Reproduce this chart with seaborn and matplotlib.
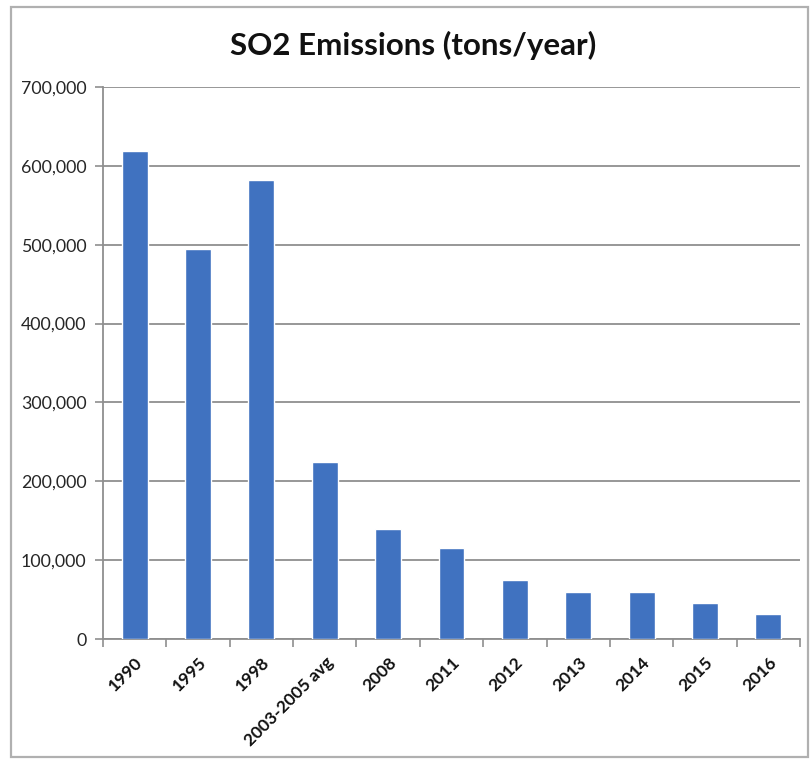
import matplotlib
matplotlib.use("Agg")
import matplotlib.pyplot as plt
from matplotlib.ticker import FuncFormatter, MultipleLocator, FixedLocator
from matplotlib.patches import Rectangle
import seaborn as sns

# Annual SO2 emissions by reporting period
categories = ["1990", "1995", "1998", "2003-2005 avg", "2008", "2011",
              "2012", "2013", "2014", "2015", "2016"]
emissions = [619000, 494000, 582000, 224000, 139000, 115000,
             75000, 60000, 59000, 46000, 32000]

sns.set_theme(style="white")
plt.rcParams["font.family"] = ["Lato", "DejaVu Sans"]

W, H = 811, 759
fig = plt.figure(figsize=(W / 100, H / 100), dpi=100)
fig.patch.set_facecolor("white")

# outer chart frame
fig.patches.append(Rectangle((11 / W, 1 - 757 / H), (808 - 11) / W, (757 - 7) / H,
                             transform=fig.transFigure, fill=False,
                             edgecolor="#b0b0b0", linewidth=1.6))

ax = fig.add_axes([103 / W, 1 - 639 / H, (800 - 103) / W, (639 - 87) / H])

sns.barplot(x=categories, y=emissions, color="#4072c0", width=0.41,
            saturation=1, ax=ax, zorder=3)

ax.set_xlim(-0.5, len(categories) - 0.5)
ax.set_ylim(0, 700000)
ax.yaxis.set_major_locator(MultipleLocator(100000))
ax.yaxis.set_major_formatter(FuncFormatter(lambda v, p: f"{int(v):,}"))
ax.grid(axis="y", color="#8f8f8f", linewidth=1.3, zorder=0)
ax.set_axisbelow(True)

for side in ("top", "right"):
    ax.spines[side].set_visible(False)
for side in ("left", "bottom"):
    ax.spines[side].set_color("#8f8f8f")
    ax.spines[side].set_linewidth(1.3)

ax.tick_params(axis="y", which="major", left=True, length=6, width=1.2,
               color="#8f8f8f", labelsize=12.8, labelcolor="#262626", pad=6)
ax.tick_params(axis="x", which="major", bottom=False, labelsize=12.5,
               labelcolor="#111111", pad=5)
ax.xaxis.set_minor_locator(FixedLocator([i + 0.5 for i in range(-1, len(categories))]))
ax.tick_params(axis="x", which="minor", bottom=True, length=6, width=1.2,
               color="#8f8f8f")

for lab in ax.get_xticklabels():
    lab.set_rotation(45)
    lab.set_ha("right")
    lab.set_rotation_mode("anchor")
    lab.set_fontweight("bold")

ax.set_xlabel("")
ax.set_ylabel("")

fig.text(413 / W, 1 - 45 / H, "SO2 Emissions (tons/year)",
         ha="center", va="center", fontsize=22.5, fontweight="bold", color="#111111")

fig.savefig("out.png", dpi=100, facecolor="white")
